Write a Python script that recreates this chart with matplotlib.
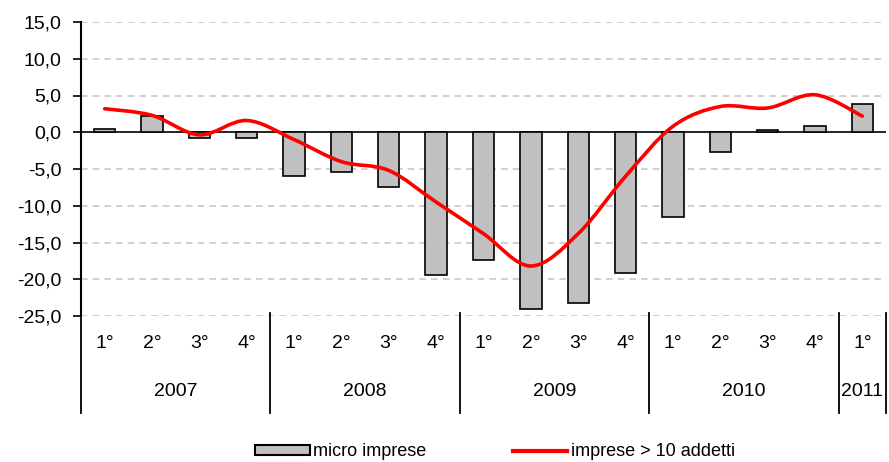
import matplotlib
matplotlib.use("Agg")
import matplotlib.pyplot as plt
from matplotlib.path import Path
from matplotlib.patches import PathPatch, Patch
from matplotlib.lines import Line2D
import matplotlib.transforms as mtransforms

plt.rcParams["font.family"] = ["Liberation Sans", "DejaVu Sans"]

# quarters 2007 Q1 .. 2011 Q1
quarters = ["1°", "2°", "3°", "4°"] * 4 + ["1°"]
years = ["2007", "2008", "2009", "2010", "2011"]
year_sizes = [4, 4, 4, 4, 1]
micro = [0.5, 2.2, -0.8, -0.8, -6.0, -5.4, -7.4, -19.4,
         -17.4, -24.0, -23.2, -19.1, -11.5, -2.7, 0.3, 0.8, 3.8]
big = [3.2, 2.3, -0.35, 1.6, -1.0, -4.0, -5.2, -9.5,
       -13.8, -18.2, -13.8, -6.0, 0.8, 3.5, 3.3, 5.1, 2.2]
yticks = [15, 10, 5, 0, -5, -10, -15, -20, -25]

GREY, RED = "#c0c0c0", "#ff0000"

fig = plt.figure(figsize=(8.89, 4.62), dpi=100)
ax = fig.add_axes([81 / 889, 1 - 316 / 462, 805 / 889, 294 / 462])

x = list(range(len(micro)))
ax.bar(x, micro, width=0.45, color=GREY, edgecolor="black", linewidth=1.2, zorder=2)

# smoothed line, Excel-style bezier through the data points
pts = list(zip(x, big))
verts = [pts[0]]
codes = [Path.MOVETO]
for i in range(len(pts) - 1):
    p0 = pts[i - 1] if i > 0 else pts[i]
    p1, p2 = pts[i], pts[i + 1]
    p3 = pts[i + 2] if i + 2 < len(pts) else pts[i + 1]
    c1 = (p1[0] + (p2[0] - p0[0]) / 6, p1[1] + (p2[1] - p0[1]) / 6)
    c2 = (p2[0] - (p3[0] - p1[0]) / 6, p2[1] - (p3[1] - p1[1]) / 6)
    verts += [c1, c2, p2]
    codes += [Path.CURVE4] * 3
ax.add_patch(PathPatch(Path(verts, codes), fill=False, edgecolor=RED,
                       linewidth=2.6, zorder=3, capstyle="round"))

ax.set_xlim(-0.5, len(micro) - 0.5)
ax.set_ylim(-25, 15)
ax.set_yticks(yticks)
ax.set_yticklabels([f"{v:.1f}".replace(".", ",") for v in yticks], fontsize=14)
ax.tick_params(axis="y", direction="out", length=6, width=1.2, pad=8)
ax.set_xticks([])
for g in [15, 10, 5, -5, -10, -15, -20, -25]:
    ax.axhline(g, color="#c8c8c8", linestyle=(0, (4, 3)), linewidth=1.2, zorder=0)
ax.axhline(0, color="black", linewidth=1.2, zorder=1)
for s in ["top", "right", "bottom"]:
    ax.spines[s].set_visible(False)
ax.spines["left"].set_linewidth(1.5)

# two-level category axis
tr = mtransforms.blended_transform_factory(ax.transData, ax.transAxes)
for i, q in enumerate(quarters):
    ax.text(i, -0.093, q, transform=tr, ha="center", va="center", fontsize=14)
edge = -0.5
for yr, n in zip(years, year_sizes):
    ax.text(edge + n / 2, -0.258, yr, transform=tr, ha="center", va="center", fontsize=14)
    edge += n
edges = [-0.5, 3.5, 7.5, 11.5, 15.5, 16.5]
for e in edges:
    ax.plot([e, e], [0.01, -0.33], transform=tr, color="black", linewidth=1.3,
            clip_on=False)

handles = [Patch(facecolor=GREY, edgecolor="black", linewidth=1.5),
           Line2D([], [], color=RED, linewidth=3)]
fig.legend(handles, ["micro imprese", "imprese > 10 addetti"], loc="center",
           bbox_to_anchor=(0.557, 0.022), ncol=2, frameon=False, fontsize=13,
           handlelength=3.0, handleheight=0.45, handletextpad=0.2, columnspacing=4.8)

fig.savefig("out.png", dpi=100)
